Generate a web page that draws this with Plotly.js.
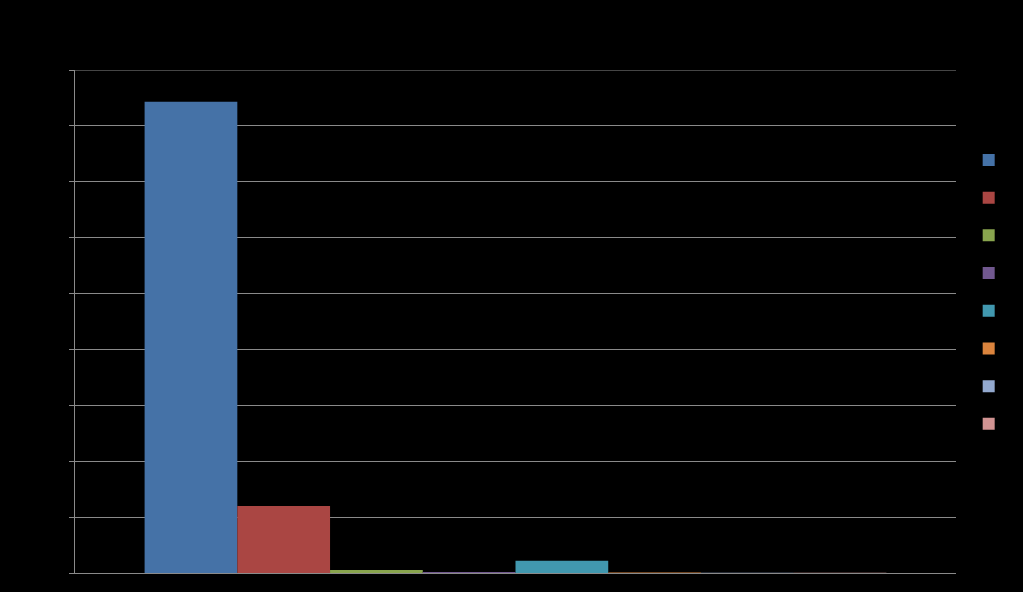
<!DOCTYPE html>
<html>
<head>
<meta charset="utf-8">
<script src="https://cdn.plot.ly/plotly-3.0.1.min.js"></script>
<style>
  html, body { margin: 0; padding: 0; background: #000; }
  #chart { width: 1023px; height: 592px; }
</style>
</head>
<body>
<div id="chart"></div>
<script>
// One category, eight series drawn side by side
const categories = ["Total"];
const seriesNames = ["S1", "S2", "S3", "S4", "S5", "S6", "S7", "S8"];
const seriesValues = [843, 120, 5.4, 2, 22, 1, 0.6, 0.6];
const seriesColors = ["#4572A7", "#AA4643", "#89A54E", "#71588F",
                      "#4198AF", "#DB843D", "#93A9CF", "#D19392"];
const yTicks = [0, 100, 200, 300, 400, 500, 600, 700, 800, 900];

const traces = seriesNames.map((name, i) => ({
  type: "bar",
  name: name,
  legendgroup: "g" + i,
  x: categories,
  y: [seriesValues[i]],
  marker: { color: seriesColors[i], line: { width: 0 } },
  hoverinfo: "skip"
}));

const axisGray = "#8a8a8a";

const layout = {
  width: 1023,
  height: 592,
  paper_bgcolor: "#000000",
  plot_bgcolor: "#000000",
  font: { family: "Liberation Sans, Arial, sans-serif", size: 10, color: "#000000" },
  margin: { l: 75, r: 67, t: 70, b: 19, pad: 0, autoexpand: false },
  barmode: "group",
  bargap: 0.158,
  bargroupgap: 0,
  showlegend: true,
  legend: {
    x: 1.0144, xanchor: "left",
    y: 0.85, yanchor: "top",
    traceorder: "grouped",
    tracegroupgap: 18.7,
    font: { size: 9, color: "#000000" },
    bgcolor: "rgba(0,0,0,0)"
  },
  // top gridline closing the value range
  shapes: [{
    type: "line", xref: "paper", yref: "y",
    x0: 0, x1: 1, y0: yTicks[yTicks.length - 1], y1: yTicks[yTicks.length - 1],
    line: { color: axisGray, width: 1 }
  }],
  xaxis: {
    type: "category",
    showgrid: false,
    showline: true,
    linecolor: axisGray,
    linewidth: 1,
    ticks: "",
    showticklabels: true,
    tickfont: { color: "#000000" },
    zeroline: false
  },
  yaxis: {
    range: [0, 900],
    tickvals: yTicks,
    ticktext: yTicks.map(String),
    showgrid: true,
    gridcolor: axisGray,
    gridwidth: 1,
    showline: true,
    linecolor: axisGray,
    linewidth: 1,
    ticks: "outside",
    ticklen: 5,
    tickcolor: axisGray,
    tickfont: { color: "#000000", size: 10 },
    zeroline: false
  }
};

Plotly.newPlot("chart", traces, layout, { displayModeBar: false, staticPlot: true });
</script>
</body>
</html>
